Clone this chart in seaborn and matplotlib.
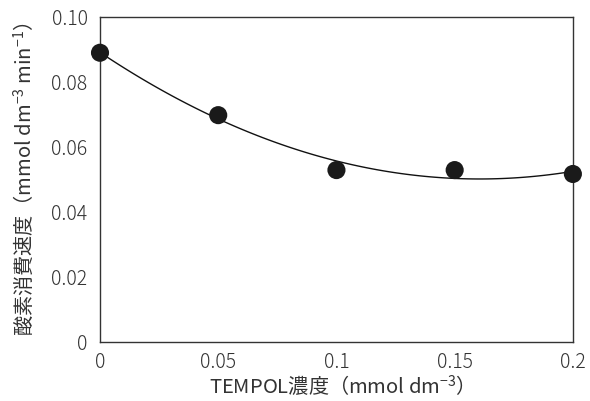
import matplotlib
matplotlib.use("Agg")
import matplotlib.pyplot as plt
import seaborn as sns
import pandas as pd

tempol = [0.0, 0.05, 0.10, 0.15, 0.20]
o2_rate = [0.089, 0.0698, 0.0529, 0.0529, 0.0517]
x_ticks = [0, 0.05, 0.1, 0.15, 0.2]
x_tick_labels = ["0", "0.05", "0.1", "0.15", "0.2"]
y_ticks = [0, 0.02, 0.04, 0.06, 0.08, 0.10]
y_tick_labels = ["0", "0.02", "0.04", "0.06", "0.08", "0.10"]
x_label = r"TEMPOL濃度（mmol dm$\mathregular{^{-3}}$）"
y_label = r"酸素消費速度（mmol dm$\mathregular{^{-3}}$ min$\mathregular{^{-1}}$）"

sns.set_style("white")
plt.rcParams['font.family'] = ['Noto Sans CJK JP', 'DejaVu Sans']
plt.rcParams['font.weight'] = 'light'
text_color = "#333333"

df = pd.DataFrame({"x": tempol, "y": o2_rate})

fig = plt.figure(figsize=(5.9, 4.01), dpi=100)
ax = fig.add_axes([0.1695, 0.1471, 0.8015, 0.8105])

sns.regplot(data=df, x="x", y="y", order=2, ci=None, ax=ax,
            scatter_kws=dict(s=170, color="#1a1a1a", edgecolor="none", alpha=1.0,
                             zorder=3, clip_on=False),
            line_kws=dict(color="#111111", lw=1.0, zorder=2))

ax.set_xlim(0, 0.2)
ax.set_ylim(0, 0.1)
ax.set_xticks(x_ticks)
ax.set_xticklabels(x_tick_labels)
ax.set_yticks(y_ticks)
ax.set_yticklabels(y_tick_labels)
ax.set_xlabel(x_label, fontsize=14.5, color=text_color, labelpad=1)
ax.set_ylabel(y_label, fontsize=14.5, color=text_color, labelpad=11)
ax.tick_params(axis="both", direction="in", length=7, width=1.0, color=text_color,
               labelsize=14, labelcolor=text_color, pad=7)
ax.tick_params(axis="y", pad=9)
for sp in ax.spines.values():
    sp.set_color(text_color)
    sp.set_linewidth(1.0)

fig.savefig("out.png", dpi=100)
